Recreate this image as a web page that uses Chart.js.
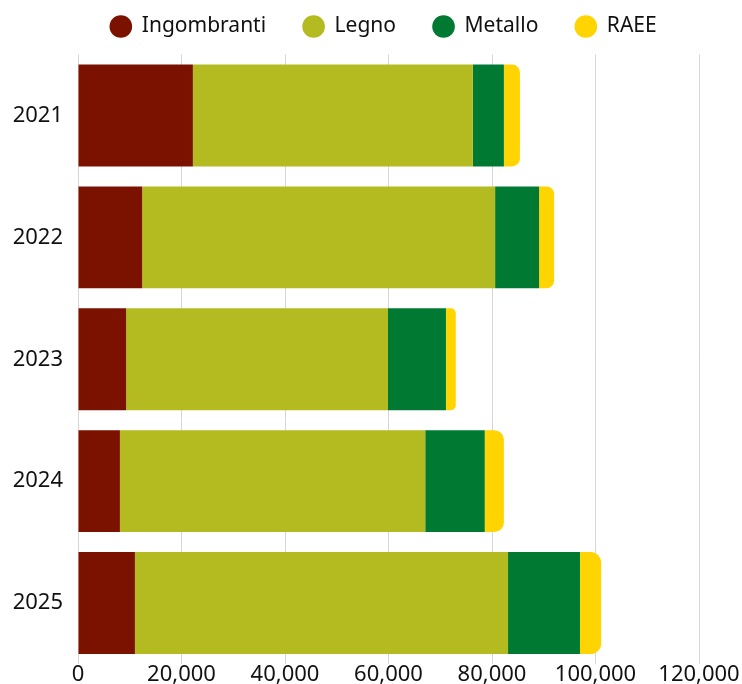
<!DOCTYPE html>
<html>
<head>
<meta charset="utf-8">
<script src="https://cdn.jsdelivr.net/npm/chart.js@4"></script>
<style>
  html, body { margin: 0; padding: 0; background: #fff; }
  #wrap { width: 742px; height: 684px; }
</style>
</head>
<body>
<div id="wrap"><canvas id="graphCanvas" width="742" height="684"></canvas></div>
<script>
const years = ["2021", "2022", "2023", "2024", "2025"];
const ingombranti = [22200, 12400, 9300, 8100, 11000];
const legno = [54100, 68200, 50600, 59000, 72100];
const metallo = [6000, 8500, 11200, 11500, 13900];
const raee = [3100, 2900, 1900, 3700, 4100];

Chart.defaults.font.family = "'Noto Sans', sans-serif";
Chart.defaults.font.size = 22;
Chart.defaults.color = "#111";

// legend box height fixed so the plot starts where it should
const legendGap = {
  id: "legendGap",
  beforeInit(chart) {
    const fit = chart.legend.fit;
    chart.legend.fit = function () {
      fit.call(this);
      this.height = 75.5;
    };
  },
};

let ctx = document.getElementById("graphCanvas").getContext("2d");
let data = {
  labels: years,
  datasets: [
    { label: "Ingombranti", data: ingombranti, backgroundColor: "#7b1200" },
    { label: "Legno", data: legno, backgroundColor: "#b3bb20" },
    { label: "Metallo", data: metallo, backgroundColor: "#007a33" },
    {
      label: "RAEE",
      data: raee,
      backgroundColor: "#ffd400",
      borderRadius: 14,
      borderSkipped: "start",
    },
  ],
};
let options = {
  indexAxis: "y",
  responsive: false,
  animation: false,
  layout: { padding: { left: 68, right: 43, top: -21, bottom: 0 } },
  datasets: { bar: { categoryPercentage: 0.836, barPercentage: 1 } },
  scales: {
    x: {
      stacked: true,
      min: 0,
      max: 120000,
      ticks: { stepSize: 20000, padding: -2 },
      grid: { color: "#d6d6d6", drawTicks: false },
      border: { display: false },
      afterFit: (scale) => { scale.height = 20; },
    },
    y: {
      stacked: true,
      ticks: { padding: 7 },
      grid: { display: false },
      border: { display: false },
      afterFit: (scale) => {
        scale.width = 10;
        scale.paddingTop = 0;
        scale.paddingBottom = 0;
        // year labels sit in the left padding, don't clip them to the narrow axis box
        scale._computeLabelArea = () => undefined;
      },
    },
  },
  plugins: {
    legend: {
      labels: {
        usePointStyle: true,
        pointStyle: "circle",
        boxWidth: 22,
        boxHeight: 16,
        padding: 37,
        font: { size: 21 },
      },
    },
    tooltip: { enabled: false },
  },
};
new Chart(ctx, { type: "bar", data: data, options: options, plugins: [legendGap] });
</script>
</body>
</html>
